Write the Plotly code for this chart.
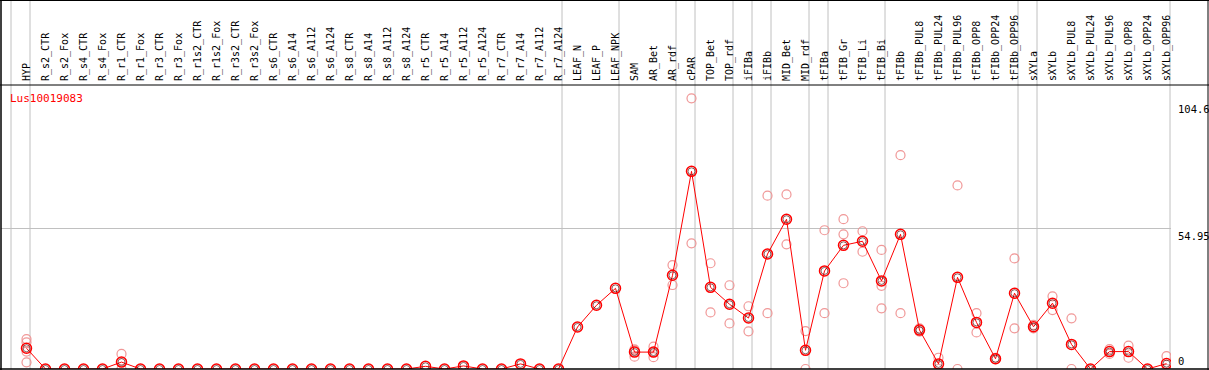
import plotly.graph_objects as go

categories = ["HYP", "R_s2_CTR", "R_s2_Fox", "R_s4_CTR", "R_s4_Fox", "R_r1_CTR", "R_r1_Fox",
              "R_r3_CTR", "R_r3_Fox", "R_r1s2_CTR", "R_r1s2_Fox", "R_r3s2_CTR", "R_r3s2_Fox",
              "R_s6_CTR", "R_s6_A14", "R_s6_A112", "R_s6_A124", "R_s8_CTR", "R_s8_A14",
              "R_s8_A112", "R_s8_A124", "R_r5_CTR", "R_r5_A14", "R_r5_A112", "R_r5_A124",
              "R_r7_CTR", "R_r7_A14", "R_r7_A112", "R_r7_A124", "LEAF_N", "LEAF_P", "LEAF_NPK",
              "SAM", "AR_Bet", "AR_rdf", "cPAR", "TOP_Bet", "TOP_rdf", "iFIBa", "iFIBb",
              "MID_Bet", "MID_rdf", "tFIBa", "tFIB_Gr", "tFIB_Li", "tFIB_Bi", "tFIBb",
              "tFIBb_PUL8", "tFIBb_PUL24", "tFIBb_PUL96", "tFIBb_OPP8", "tFIBb_OPP24",
              "tFIBb_OPP96", "sXYLa", "sXYLb", "sXYLb_PUL8", "sXYLb_PUL24", "sXYLb_PUL96",
              "sXYLb_OPP8", "sXYLb_OPP24", "sXYLb_OPP96"]

mean_values = [8.1, 0, 0, 0, 0, 2.7, 0, 0, 0, 0, 0, 0, 0,
               0, 0, 0, 0, 0, 0, 0, 0, 1.05, 0, 1.2, 0, 0, 2.0, 0, 0,
               16.4, 24.9, 31.5, 6.6, 6.6, 36.6, 77.2, 31.9, 25.3, 19.9, 44.9,
               58.5, 7.3, 38.3, 48.3, 49.9, 34.4, 52.6, 15.2, 2.0, 35.8, 18.2, 4.0,
               29.6, 16.5, 25.7, 9.6, 0, 6.8, 6.8, 0, 2.1]

replicates = {
    "HYP": [11.7, 10.4, 6.8, 2.6],
    "R_r1_CTR": [5.9, 0],
    "SAM": [7.7, 7.3, 4.8],
    "AR_Bet": [8.7, 6.5, 4.6],
    "AR_rdf": [40.6, 32.8],
    "cPAR": [105.7, 49.1],
    "TOP_Bet": [41.3, 22.1],
    "TOP_rdf": [32.7, 17.8],
    "iFIBa": [24.5, 14.7],
    "iFIBb": [67.7, 21.8],
    "MID_Bet": [68.2, 48.7],
    "MID_rdf": [14.8, 0],
    "tFIBa": [54.2, 21.8],
    "tFIB_Gr": [58.5, 52.6, 33.5],
    "tFIB_Li": [53.8, 45.8],
    "tFIB_Bi": [46.5, 32.5, 23.7],
    "tFIBb": [83.5, 21.8],
    "tFIBb_PUL8": [15.9, 14.6],
    "tFIBb_PUL24": [4.4, 0],
    "tFIBb_PUL96": [71.7, 0],
    "tFIBb_OPP8": [21.8, 14.3],
    "tFIBb_OPP24": [4.4, 3.8],
    "tFIBb_OPP96": [43.2, 15.9],
    "sXYLa": [17.2, 15.9],
    "sXYLb": [28.4, 23.0],
    "sXYLb_PUL8": [19.8, 0],
    "sXYLb_PUL96": [7.8, 5.9],
    "sXYLb_OPP8": [9.1, 4.4],
    "sXYLb_OPP96": [5.0, 0],
}

group_starts = [0, 1, 29, 32, 35, 36, 38, 39, 40, 42, 43, 46, 53, 54, 61]
axis_labels = [104.6, 54.95, 0]
gene_name = "Lus10019083"

xs = list(range(len(categories)))
rep_x, rep_y = [], []
for name, vals in replicates.items():
    i = categories.index(name)
    for v in vals:
        rep_x.append(i)
        rep_y.append(v)

FONT = "DejaVu Sans Mono"
fig = go.Figure()
fig.add_trace(go.Scatter(x=rep_x, y=rep_y, mode="markers",
                         marker=dict(symbol="circle-open", size=9, color="rgba(238,140,140,0.9)",
                                     line=dict(width=1.2)),
                         hoverinfo="skip", showlegend=False))
fig.add_trace(go.Scatter(x=xs, y=mean_values, mode="lines+markers",
                         line=dict(color="#ff0000", width=1),
                         marker=dict(symbol="circle-open", size=10, color="#ff0000",
                                     line=dict(width=1.5)),
                         showlegend=False))
fig.add_trace(go.Scatter(x=xs, y=mean_values, mode="markers",
                         marker=dict(symbol="circle-open", size=7, color="rgba(60,0,0,0.75)",
                                     line=dict(width=0.8)),
                         hoverinfo="skip", showlegend=False))

off = 0.8158
shapes = []
for k in group_starts:
    shapes.append(dict(type="line", xref="x", yref="paper", x0=k - off, x1=k - off,
                       y0=0, y1=1.31, line=dict(color="#c0c0c0", width=1), layer="below"))
top_paper = 1 + 85 / 284
right_paper = (1208 - 1) / 1170
shapes += [
    dict(type="line", xref="paper", yref="paper", x0=-0.01, x1=right_paper + 0.01, y0=1, y1=1,
         line=dict(color="black", width=1)),
    dict(type="line", xref="paper", yref="paper", x0=-0.01, x1=right_paper + 0.01,
         y0=top_paper - 0.001, y1=top_paper - 0.001, line=dict(color="black", width=1.5)),
    dict(type="line", xref="paper", yref="paper", x0=-0.01, x1=right_paper + 0.01, y0=0, y1=0,
         line=dict(color="black", width=1.5)),
    dict(type="line", xref="paper", yref="paper", x0=0, x1=0, y0=-0.01, y1=top_paper + 0.01,
         line=dict(color="black", width=1.5)),
    dict(type="line", xref="paper", yref="paper", x0=right_paper, x1=right_paper,
         y0=-0.01, y1=top_paper + 0.01, line=dict(color="black", width=1)),
]

annotations = [dict(text=gene_name, xref="paper", yref="paper", x=(8 - 1) / 1170, y=1 - 5 / 284,
                    xanchor="left", yanchor="top", showarrow=False,
                    font=dict(family=FONT, size=11, color="#ff0000"))]
for v in axis_labels:
    annotations.append(dict(text=str(v), xref="paper", yref="y", x=(1176 - 1) / 1170, y=v,
                            xanchor="left", yanchor="bottom" if v == 0 else "top",
                            showarrow=False, font=dict(family=FONT, size=10.5, color="black")))

fig.update_layout(
    width=1209, height=370,
    margin=dict(l=1, r=38, t=85, b=1, autoexpand=False),
    plot_bgcolor="white", paper_bgcolor="white",
    shapes=shapes, annotations=annotations,
    xaxis=dict(range=[-1.3421, 60.2368], side="top", tickmode="array", tickvals=xs,
               ticktext=categories, tickangle=-90, showgrid=False, zeroline=False,
               showline=False, ticks="", automargin=False, ticklabelstandoff=3,
               tickfont=dict(family=FONT, size=10, color="black")),
    yaxis=dict(range=[0, 110.92], tickvals=[54.95], showticklabels=False, showgrid=True,
               gridcolor="#c0c0c0", gridwidth=1, zeroline=False, showline=False,
               automargin=False),
)
fig.write_html("out.html", config={"displayModeBar": False},
               post_script="document.body.style.margin='0';document.body.style.padding='0';"
                           "document.body.style.overflow='hidden';")
